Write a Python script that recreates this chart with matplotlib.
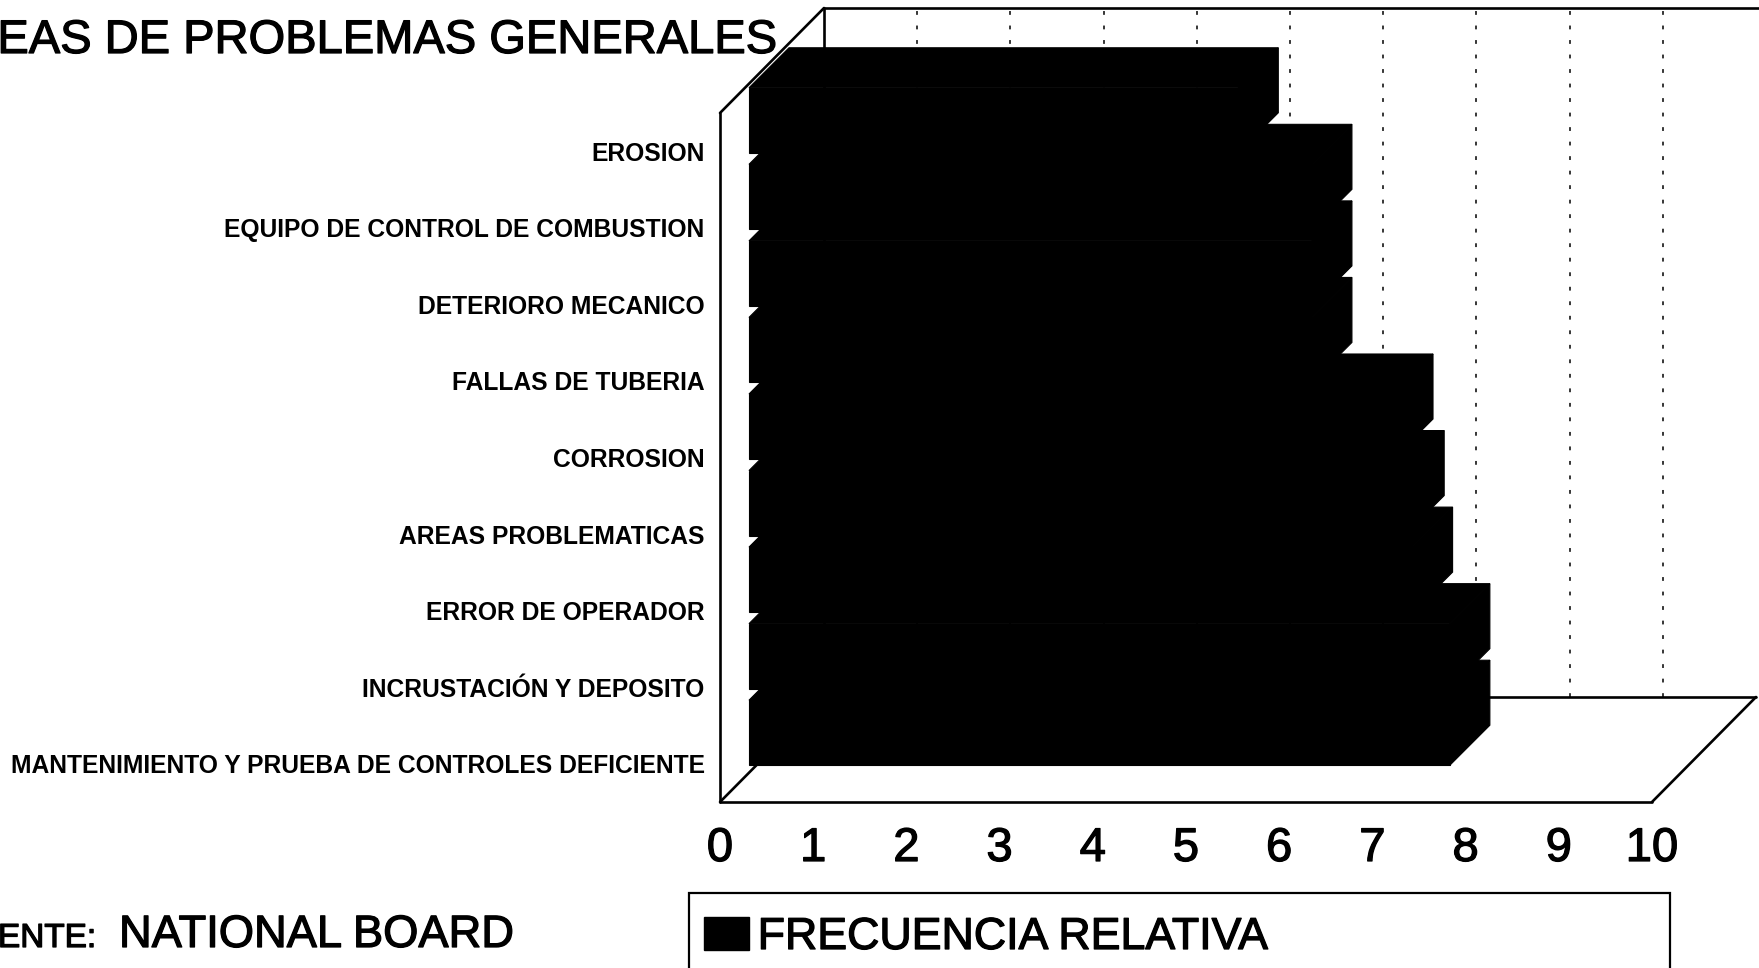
import matplotlib
matplotlib.use("Agg")
import matplotlib.pyplot as plt
from matplotlib.patches import Patch, Rectangle
import matplotlib.patheffects as pe

plt.rcParams['font.family'] = ['Liberation Sans', 'DejaVu Sans']

categories = [
    "MANTENIMIENTO Y PRUEBA DE CONTROLES DEFICIENTE",
    "INCRUSTACIÓN Y DEPOSITO",
    "ERROR DE OPERADOR",
    "AREAS PROBLEMATICAS",
    "CORROSION",
    "FALLAS DE TUBERIA",
    "DETERIORO MECANICO",
    "EQUIPO DE CONTROL DE COMBUSTION",
    "EROSION",
]
values = [7.52, 7.52, 7.12, 7.03, 6.91, 6.04, 6.04, 6.04, 5.25]
xticks = list(range(11))

W, H = 1759, 968
fig = plt.figure(figsize=(W / 100, H / 100), dpi=100, facecolor="white")
# front plane of the 3-D box
left, right, top, bottom = 720, 1652, 113, 802
ax = fig.add_axes([left / W, 1 - bottom / H, (right - left) / W, (bottom - top) / H])
ax.set_xlim(0, 10)
ax.set_ylim(-0.5, 8.5)
for s in ax.spines.values():
    s.set_visible(False)
ax.patch.set_visible(False)

ux = (right - left) / 10       # px per x unit
uy = (bottom - top) / 9        # px per category
wall_dx, wall_dy = 104 / ux, 105 / uy
front_dx, front_dy = 29 / ux, 31 / uy
bar_dx, bar_dy = 40 / ux, 40 / uy
bar_h = 65 / uy

thick = [pe.withStroke(linewidth=0.9, foreground="black")]

# box outline
lw = 1.9
yb, yt = -0.5, 8.5
outline = dict(color="black", lw=lw, clip_on=False, zorder=1, solid_capstyle="round")
ax.plot([0, 0], [yb, yt], **outline)
ax.plot([0, wall_dx], [yt, yt + wall_dy], **outline)
ax.plot([wall_dx, 10 + wall_dx + 0.03], [yt + wall_dy, yt + wall_dy], **outline)
ax.plot([wall_dx, wall_dx], [yb + wall_dy, yt + wall_dy], **outline)
ax.plot([0, 10], [yb, yb], **outline)
ax.plot([0, wall_dx], [yb, yb + wall_dy], **outline)
ax.plot([10, 10 + wall_dx], [yb, yb + wall_dy], **outline)
ax.plot([wall_dx, 10 + wall_dx], [yb + wall_dy, yb + wall_dy], **outline)

# dashed gridlines on back wall
for k in xticks[1:-1]:
    ax.plot([k + wall_dx, k + wall_dx], [yb + wall_dy, yt + wall_dy], color="black",
            lw=1.1, ls=(0, (2.5, 7)), clip_on=False, zorder=1)

# bars with front, top and side faces
face = dict(facecolor="black", edgecolor="black", linewidth=0.8, zorder=3, clip_on=False)
for i, v in enumerate(values):
    x0 = front_dx
    y0 = i - bar_h / 2 + front_dy
    y1 = y0 + bar_h
    ax.barh(i + front_dy, v, height=bar_h, left=x0, **face)
    ax.fill([x0, x0 + v, x0 + v + bar_dx, x0 + bar_dx],
            [y1, y1, y1 + bar_dy, y1 + bar_dy], **face)
    ax.fill([x0 + v, x0 + v + bar_dx, x0 + v + bar_dx, x0 + v],
            [y0, y0 + bar_dy, y1 + bar_dy, y1], **face)

ax.set_xticks(xticks)
ax.set_xticklabels([str(t) for t in xticks], fontsize=34, path_effects=thick)
ax.tick_params(axis="x", length=0, pad=18)
ax.set_yticks(range(len(categories)))
ax.set_yticklabels(categories, fontsize=17.7, fontweight="bold")
ax.tick_params(axis="y", length=0, pad=11)

fig.text(778 / W, 1 - 41 / H, "EAS DE PROBLEMAS GENERALES", fontsize=33.9,
         ha="right", va="center", path_effects=thick)
fig.text(-2 / W, 1 - 947 / H, "ENTE:", fontsize=24, ha="left", va="baseline", path_effects=thick)
fig.text(119 / W, 1 - 947 / H, "NATIONAL BOARD", fontsize=32.6, ha="left", va="baseline",
         path_effects=thick)

# legend frame runs off the bottom of the page
fig.add_artist(Rectangle((689 / W, 1 - 975 / H), (1670 - 689) / W, (975 - 893) / H,
                         transform=fig.transFigure, facecolor="white", edgecolor="black",
                         linewidth=1.6))
leg = fig.legend(handles=[Patch(facecolor="black", edgecolor="black", label="FRECUENCIA RELATIVA")],
                 loc="upper left", bbox_to_anchor=(704 / W, 1 - 917 / H),
                 borderaxespad=0, borderpad=0, frameon=False,
                 fontsize=32.2, handlelength=1.0, handleheight=0.75, handletextpad=0.2)
leg.get_texts()[0].set_path_effects(thick)

fig.savefig("out.png", dpi=100, facecolor="white")
